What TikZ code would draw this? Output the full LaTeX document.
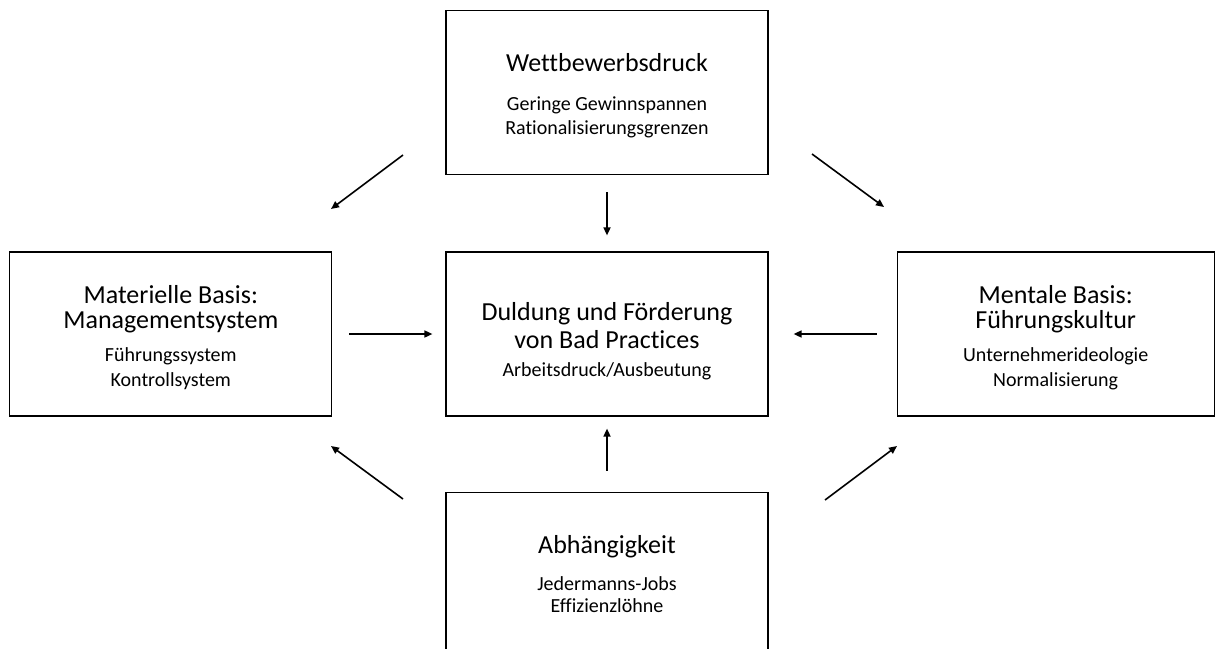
\documentclass[tikz,border=0pt]{standalone}
\usepackage{fontspec}
\setmainfont{Carlito}[Ligatures=NoCommon]
\usepackage{tikz}
\usetikzlibrary{arrows.meta,
    positioning}

\newcommand{\unter}{\fontsize{20}{24}\selectfont}
\newcommand{\hoch}[1]{\rule{0pt}{#1}}
\tikzset{kasten/.style={draw, line width=1.2pt, minimum width=322pt,
    minimum height=164pt, inner sep=0pt, align=center,
    font=\fontsize{26}{27}\selectfont},
  pfeil/.style={-{Triangle[length=8pt,width=7pt]}, line width=1.6pt}}

\begin{document}
\begin{tikzpicture}[x=1pt,y=-1pt]
                  \useasboundingbox (0,0) rectangle (1215,648);
                  \node[kasten] (mitte) at (607,334) {\hoch{32pt}Duldung und Förderung\\[1pt]von Bad Practices\\[1pt]{\unter Arbeitsdruck/Ausbeutung}};
                  \node[kasten, above=76pt of mitte] (oben) {\hoch{23.5pt}Wettbewerbsdruck\\[12pt]{\unter Geringe Gewinnspannen}\\[-3pt]{\unter Rationalisierungsgrenzen}};
                  \node[kasten, below=75pt of mitte] (unten) {Abhängigkeit\\[10pt]{\unter Jedermanns-Jobs}\\[-5pt]{\unter Effizienzlöhne}};
                  \node[kasten, left=113pt of mitte] (links) {\hoch{26pt}Materielle Basis:\\[-2pt]Managementsystem\\[6pt]{\unter Führungssystem}\\[-2pt]{\unter Kontrollsystem}};
                  \node[kasten, right=128pt of mitte, minimum width=317pt] (rechts) {\hoch{26pt}Mentale Basis:\\[-2pt]Führungskultur\\[6pt]{\unter Unternehmerideologie}\\[-2pt]{\unter Normalisierung}};
                  \coordinate (ol1) at (403,155);
                  \coordinate (ol2) at (331,209);
                  \coordinate (or1) at (812,154);
                  \coordinate (or2) at (884,207);
                  \coordinate (ul1) at (403,499);
                  \coordinate (ul2) at (331,446);
                  \coordinate (ur1) at (825,500);
                  \coordinate (ur2) at (897,446);
                  \draw[pfeil] (ol1) -- (ol2);
                  \draw[pfeil] (or1) -- (or2);
                  \draw[pfeil] (ul1) -- (ul2);
                  \draw[pfeil] (ur1) -- (ur2);
                  \draw[pfeil] ([yshift=-17pt]oben.south) -- ([yshift=16pt]mitte.north);
                  \draw[pfeil] ([yshift=21pt]unten.north) -- ([yshift=-12pt]mitte.south);
                  \draw[pfeil] ([xshift=17pt]links.east) -- ([xshift=-13pt]mitte.west);
                  \draw[pfeil] ([xshift=-20pt]rechts.west) -- ([xshift=25pt]mitte.east);
              \end{tikzpicture}
\end{document}
